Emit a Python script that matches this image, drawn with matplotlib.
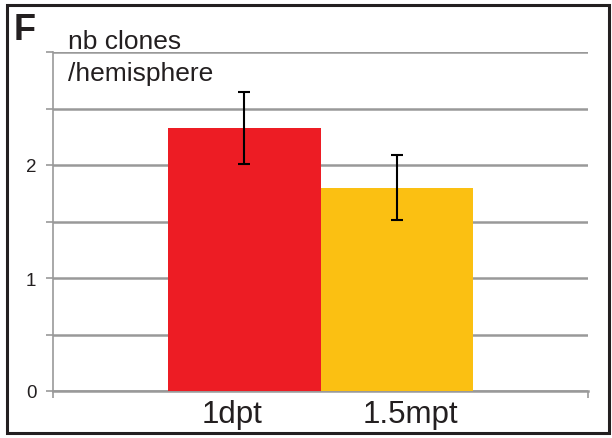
import matplotlib.pyplot as plt
from matplotlib.patches import Rectangle

# données
groupes = ["1dpt", "1.5mpt"]
moyennes = [2.33, 1.80]
erreurs = [0.32, 0.29]
couleurs = ["#ED1C24", "#FBC012"]
yticks_labels = ["0", "", "1", "", "2", "", ""]

plt.rcParams['font.family'] = ['Liberation Sans', 'DejaVu Sans']

fig = plt.figure(figsize=(6.12, 4.39), dpi=100)
ax = fig.add_axes([53 / 612, 47 / 439, 535 / 612, 339 / 439])

# une seule catégorie, deux séries côte à côte
w = 153 / 535
pos = [0.5 - w / 2, 0.5 + w / 2]
ax.bar(pos, moyennes, width=w, color=couleurs, zorder=3)
ax.errorbar(pos, moyennes, yerr=erreurs, fmt='none', ecolor='black',
            elinewidth=1.5, capsize=4, capthick=1.5, zorder=4)

ax.set_xlim(0, 1)
ax.set_ylim(0, 3)

# grille grise tous les 0.5
ax.set_yticks([0, 0.5, 1, 1.5, 2, 2.5, 3])
ax.set_yticklabels(yticks_labels, fontsize=13.5, color='#231F20')
ax.yaxis.grid(True, color='#999999', linewidth=1.8, zorder=0)
ax.tick_params(axis='y', length=5, color='#999999', width=1.2, pad=7)

ax.set_xticks([0, 1])
ax.set_xticklabels(["", ""])
ax.tick_params(axis='x', length=5, color='#999999', width=1.2, direction='out')

for s in ['top', 'right']:
    ax.spines[s].set_visible(False)
ax.spines['left'].set_color('#999999')
ax.spines['left'].set_linewidth(1.2)
ax.spines['bottom'].set_color('#999999')
ax.spines['bottom'].set_linewidth(1.8)

# étiquettes sous les barres
ax.text(0.335, -0.025, groupes[0], ha='center', va='top', fontsize=22.5,
        transform=ax.get_xaxis_transform(), color='#231F20')
ax.text(0.669, -0.025, groupes[1], ha='center', va='top', fontsize=22.5,
        transform=ax.get_xaxis_transform(), color='#231F20')

# titre de l'axe y
fig.text(68 / 612, 1 - 49 / 439, "nb clones", fontsize=19, va='baseline', color='#231F20')
fig.text(68 / 612, 1 - 81 / 439, "/hemisphere", fontsize=19, va='baseline', color='#231F20')

# lettre du panneau
fig.text(14 / 612, 1 - 40 / 439, "F", fontsize=26, fontweight='bold', va='baseline', color='#231F20')

# cadre noir
fig.patches.append(Rectangle((7 / 612, 5 / 439), 602 / 612, 428 / 439,
                             transform=fig.transFigure, fill=False,
                             edgecolor='#231F20', linewidth=2.2))

fig.savefig("out.png", dpi=100)
